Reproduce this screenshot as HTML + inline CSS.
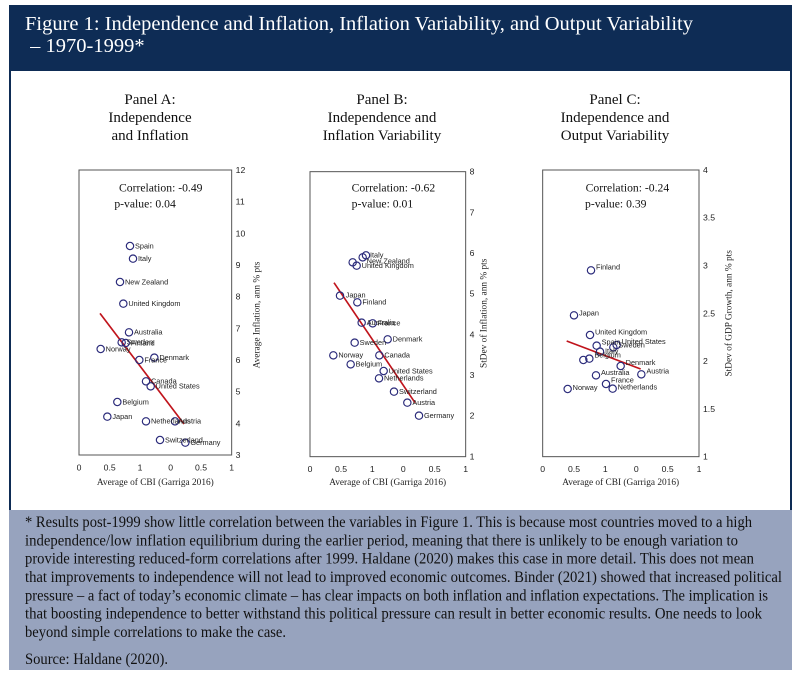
<!DOCTYPE html>
<html><head><meta charset="utf-8"><style>
body{margin:0;background:#fff;width:800px;height:681px;overflow:hidden;font-family:"Liberation Serif",serif}
#hd{position:absolute;left:9px;top:5px;width:783px;height:66px;background:#0e2c55;color:#fff;font-size:20.5px;line-height:22px}
#hd div{position:absolute;left:16px;top:8px;white-space:nowrap}
#ch{position:absolute;left:9px;top:71px;width:779px;height:439px;border-left:2px solid #0e2c55;border-right:2px solid #0e2c55;background:#fff}
#fn{position:absolute;left:9px;top:510px;width:783px;height:160px;background:#97a3be}
svg{position:absolute;left:0;top:0}
.pt{font-family:"Liberation Serif",serif;font-size:15px;text-anchor:middle;fill:#111}
.fn{font-family:"Liberation Serif",serif;font-size:16px;fill:#111}
</style></head><body>
<div id="hd"><div>Figure 1: Independence and Inflation, Inflation Variability, and Output Variability<br>&nbsp;– 1970-1999*</div></div>
<div id="ch"></div>
<div id="fn"></div>
<svg width="800" height="681" viewBox="0 0 800 681">
<g class="fn" lengthAdjust="spacingAndGlyphs">
<text x="25" y="527" textLength="727" lengthAdjust="spacingAndGlyphs">* Results post-1999 show little correlation between the variables in Figure 1. This is because most countries moved to a high</text>
<text x="25" y="545.3" textLength="713" lengthAdjust="spacingAndGlyphs">independence/low inflation equilibrium during the earlier period, meaning that there is unlikely to be enough variation to</text>
<text x="25" y="563.7" textLength="729" lengthAdjust="spacingAndGlyphs">provide interesting reduced-form correlations after 1999. Haldane (2020) makes this case in more detail. This does not mean</text>
<text x="25" y="582" textLength="757" lengthAdjust="spacingAndGlyphs">that improvements to independence will not lead to improved economic outcomes. Binder (2021) showed that increased political</text>
<text x="25" y="600.3" textLength="743" lengthAdjust="spacingAndGlyphs">pressure – a fact of today’s economic climate – has clear impacts on both inflation and inflation expectations. The implication is</text>
<text x="25" y="618.7" textLength="737" lengthAdjust="spacingAndGlyphs">that boosting independence to better withstand this political pressure can result in better economic results. One needs to look</text>
<text x="25" y="637" textLength="261" lengthAdjust="spacingAndGlyphs">beyond simple correlations to make the case.</text>
<text x="25" y="664" textLength="143" lengthAdjust="spacingAndGlyphs">Source: Haldane (2020).</text>
</g>
<g class="pt">
<text x="150" y="104">Panel A:</text><text x="150" y="122">Independence</text><text x="150" y="140">and Inflation</text>
<text x="382" y="104">Panel B:</text><text x="382" y="122">Independence and</text><text x="382" y="140">Inflation Variability</text>
<text x="615" y="104">Panel C:</text><text x="615" y="122">Independence and</text><text x="615" y="140">Output Variability</text>
</g>
<!-- Panel A -->
<g transform="translate(60,150) scale(0.33333)" font-family="Liberation Sans,sans-serif">
<rect x="57" y="60" width="458" height="855" fill="none" stroke="#555" stroke-width="3"/>
<g font-size="26" fill="#222">
<text x="527" y="69">12</text><text x="527" y="164">11</text><text x="527" y="259">10</text><text x="527" y="354">9</text><text x="527" y="449">8</text><text x="527" y="544">7</text><text x="527" y="639">6</text><text x="527" y="734">5</text><text x="527" y="829">4</text><text x="527" y="924">3</text>
<g text-anchor="middle"><text x="57" y="962">0</text><text x="149" y="962">0.5</text><text x="240" y="962">1</text><text x="332" y="962">0</text><text x="423" y="962">0.5</text><text x="515" y="962">1</text></g>
</g>
<text x="286" y="1005" font-family="Liberation Serif,serif" font-size="28" text-anchor="middle" fill="#222">Average of CBI (Garriga 2016)</text>
<text transform="translate(598,495) rotate(-90)" font-family="Liberation Serif,serif" font-size="28" text-anchor="middle" fill="#222">Average Inflation, ann % pts</text>
<g font-family="Liberation Serif,serif" font-size="35" fill="#111"><text x="177" y="124">Correlation: -0.49</text><text x="163" y="173">p-value: 0.04</text></g>
<line x1="120" y1="490" x2="372" y2="822" stroke="#c0141c" stroke-width="5"/>
<g fill="none" stroke="#2a2a7a" stroke-width="3.5"><circle cx="210" cy="288" r="11"/><circle cx="219" cy="326" r="11"/><circle cx="180" cy="396" r="11"/><circle cx="190" cy="461" r="11"/><circle cx="207" cy="547" r="11"/><circle cx="185" cy="577" r="11"/><circle cx="197" cy="579" r="11"/><circle cx="122" cy="597" r="11"/><circle cx="238" cy="630" r="11"/><circle cx="283" cy="623" r="11"/><circle cx="258" cy="694" r="11"/><circle cx="272" cy="709" r="11"/><circle cx="172" cy="756" r="11"/><circle cx="142" cy="800" r="11"/><circle cx="258" cy="814" r="11"/><circle cx="345" cy="814" r="11"/><circle cx="300" cy="870" r="11"/><circle cx="376" cy="878" r="11"/></g>
<g font-size="22" fill="#222"><text x="225" y="295">Spain</text><text x="234" y="333">Italy</text><text x="195" y="403">New Zealand</text><text x="205" y="468">United Kingdom</text><text x="222" y="554">Australia</text><text x="200" y="584">Sweden</text><text x="212" y="586">Finland</text><text x="137" y="604">Norway</text><text x="253" y="637">France</text><text x="298" y="630">Denmark</text><text x="273" y="701">Canada</text><text x="287" y="716">United States</text><text x="187" y="763">Belgium</text><text x="157" y="807">Japan</text><text x="273" y="821">Netherlands</text><text x="355" y="821">Austria</text><text x="315" y="877">Switzerland</text><text x="391" y="885">Germany</text></g>
</g>
<!-- Panel B -->
<g transform="translate(300,150) scale(0.33333)" font-family="Liberation Sans,sans-serif">
<rect x="30" y="65" width="467" height="855" fill="none" stroke="#555" stroke-width="3"/>
<g font-size="26" fill="#222">
<text x="509" y="74">8</text><text x="509" y="196">7</text><text x="509" y="318">6</text><text x="509" y="440">5</text><text x="509" y="562">4</text><text x="509" y="684">3</text><text x="509" y="806">2</text><text x="509" y="929">1</text>
<g text-anchor="middle"><text x="30" y="966">0</text><text x="123" y="966">0.5</text><text x="217" y="966">1</text><text x="310" y="966">0</text><text x="404" y="966">0.5</text><text x="497" y="966">1</text></g>
</g>
<text x="263" y="1005" font-family="Liberation Serif,serif" font-size="28" text-anchor="middle" fill="#222">Average of CBI (Garriga 2016)</text>
<text transform="translate(560,490) rotate(-90)" font-family="Liberation Serif,serif" font-size="28" text-anchor="middle" fill="#222">StDev of Inflation, ann % pts</text>
<g font-family="Liberation Serif,serif" font-size="35" fill="#111"><text x="155" y="124">Correlation: -0.62</text><text x="155" y="173">p-value: 0.01</text></g>
<line x1="102" y1="398" x2="345" y2="758" stroke="#c0141c" stroke-width="5"/>
<g fill="none" stroke="#2a2a7a" stroke-width="3.5"><circle cx="198" cy="316" r="11"/><circle cx="188" cy="322" r="11"/><circle cx="158" cy="337" r="11"/><circle cx="170" cy="347" r="11"/><circle cx="120" cy="437" r="11"/><circle cx="172" cy="457" r="11"/><circle cx="185" cy="518" r="11"/><circle cx="218" cy="520" r="11"/><circle cx="263" cy="568" r="11"/><circle cx="164" cy="578" r="11"/><circle cx="100" cy="616" r="11"/><circle cx="238" cy="616" r="11"/><circle cx="152" cy="643" r="11"/><circle cx="251" cy="663" r="11"/><circle cx="237" cy="685" r="11"/><circle cx="282" cy="725" r="11"/><circle cx="322" cy="758" r="11"/><circle cx="357" cy="797" r="11"/></g>
<g font-size="22" fill="#222"><text x="210" y="322">Italy</text><text x="200" y="340">New Zealand</text><text x="185" y="354">United Kingdom</text><text x="137" y="443">Japan</text><text x="187" y="464">Finland</text><text x="200" y="525">Australia</text><text x="233" y="527">France</text><text x="278" y="575">Denmark</text><text x="179" y="585">Sweden</text><text x="115" y="623">Norway</text><text x="253" y="623">Canada</text><text x="167" y="650">Belgium</text><text x="266" y="670">United States</text><text x="252" y="692">Netherlands</text><text x="297" y="732">Switzerland</text><text x="337" y="765">Austria</text><text x="372" y="804">Germany</text></g>
</g>
<!-- Panel C -->
<g transform="translate(520,150) scale(0.33333)" font-family="Liberation Sans,sans-serif">
<rect x="68" y="60" width="469" height="860" fill="none" stroke="#555" stroke-width="3"/>
<g font-size="26" fill="#222">
<text x="549" y="69">4</text><text x="549" y="212">3.5</text><text x="549" y="356">3</text><text x="549" y="499">2.5</text><text x="549" y="642">2</text><text x="549" y="786">1.5</text><text x="549" y="929">1</text>
<g text-anchor="middle"><text x="68" y="966">0</text><text x="162" y="966">0.5</text><text x="256" y="966">1</text><text x="349" y="966">0</text><text x="443" y="966">0.5</text><text x="537" y="966">1</text></g>
</g>
<text x="302" y="1005" font-family="Liberation Serif,serif" font-size="28" text-anchor="middle" fill="#222">Average of CBI (Garriga 2016)</text>
<text transform="translate(635,490) rotate(-90)" font-family="Liberation Serif,serif" font-size="28" text-anchor="middle" fill="#222">StDev of GDP Growth, ann % pts</text>
<g font-family="Liberation Serif,serif" font-size="35" fill="#111"><text x="197" y="124">Correlation: -0.24</text><text x="195" y="173">p-value: 0.39</text></g>
<line x1="140" y1="573" x2="362" y2="657" stroke="#c0141c" stroke-width="5"/>
<g fill="none" stroke="#2a2a7a" stroke-width="3.5"><circle cx="213" cy="361" r="11"/><circle cx="162" cy="496" r="11"/><circle cx="210" cy="555" r="11"/><circle cx="230" cy="587" r="11"/><circle cx="290" cy="585" r="11"/><circle cx="280" cy="592" r="11"/><circle cx="240" cy="605" r="11"/><circle cx="208" cy="626" r="11"/><circle cx="190" cy="630" r="11"/><circle cx="302" cy="648" r="11"/><circle cx="364" cy="673" r="11"/><circle cx="228" cy="676" r="11"/><circle cx="258" cy="702" r="11"/><circle cx="143" cy="717" r="11"/><circle cx="278" cy="716" r="11"/></g>
<g font-size="22" fill="#222"><text x="228" y="358">Finland</text><text x="177" y="497">Japan</text><text x="225" y="554">United Kingdom</text><text x="245" y="584">Spain</text><text x="305" y="582">United States</text><text x="295" y="592">Sweden</text><text x="255" y="610">Italy</text><text x="223" y="622">Belgium</text><text x="317" y="645">Denmark</text><text x="379" y="670">Austria</text><text x="243" y="675">Australia</text><text x="273" y="698">France</text><text x="158" y="720">Norway</text><text x="293" y="718">Netherlands</text></g>
</g>
</svg>
</body></html>
